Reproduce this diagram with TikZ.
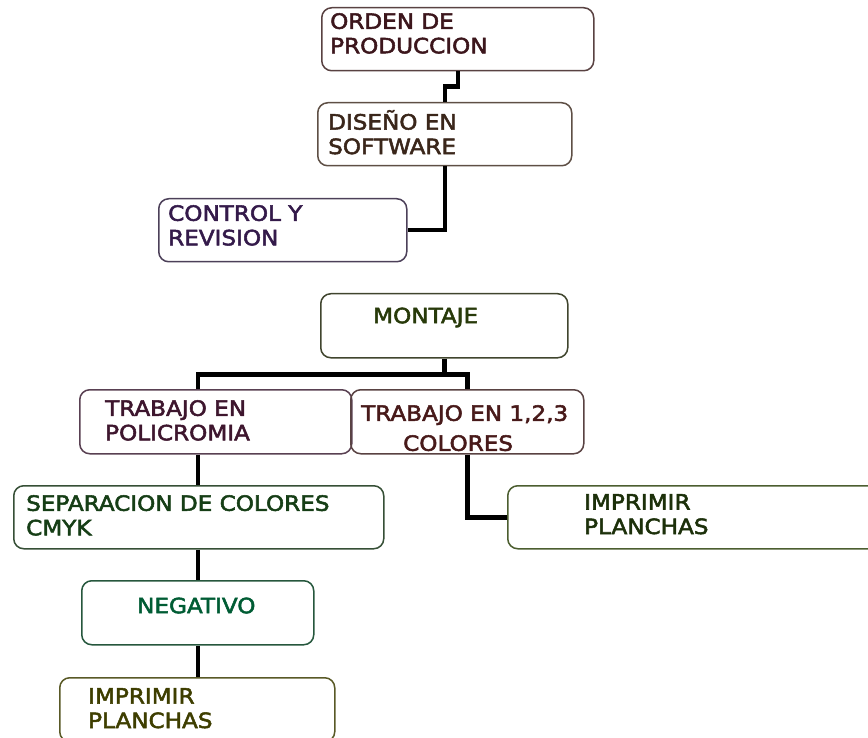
\documentclass[tikz,border=0pt]{standalone}
\usepackage{fontspec}
\setmainfont{DejaVu Sans}[FakeStretch=1.1,FakeBold=2.5]
\definecolor{ordentono}{RGB}{200, 110, 110}
\definecolor{ordentxt}{RGB}{60, 22, 28}
\definecolor{disenotono}{RGB}{220, 160, 120}
\definecolor{disenotxt}{RGB}{58, 38, 26}
\definecolor{controltono}{RGB}{150, 100, 200}
\definecolor{controltxt}{RGB}{52, 26, 74}
\definecolor{montajetono}{RGB}{100, 120, 30}
\definecolor{montajetxt}{RGB}{40, 58, 10}
\definecolor{policromtono}{RGB}{200, 100, 170}
\definecolor{policromtxt}{RGB}{62, 22, 46}
\definecolor{trestono}{RGB}{200, 110, 110}
\definecolor{trestxt}{RGB}{72, 26, 26}
\definecolor{separatono}{RGB}{60, 160, 60}
\definecolor{separatxt}{RGB}{22, 62, 22}
\definecolor{negativotono}{RGB}{0, 190, 90}
\definecolor{negativotxt}{RGB}{0, 92, 52}
\definecolor{imprimatono}{RGB}{200, 200, 0}
\definecolor{imprimatxt}{RGB}{62, 62, 0}
\definecolor{imprimbtono}{RGB}{150, 220, 40}
\definecolor{imprimbtxt}{RGB}{28, 48, 10}

\begin{document}
\begin{tikzpicture}[x=1pt,y=-1pt,
    caja/.style={draw=#1!30!black!85, line width=1.5pt, rounded corners=10pt,
      anchor=north west, inner sep=0pt, minimum height=63pt},
    texto/.style={anchor=north west, inner sep=0pt, align=left, text=#1,
      font=\fontsize{21}{24.5}\selectfont,
      execute at begin node={\rule{0pt}{20pt}}},
    linea/.style={line width=4.5pt}]
  \useasboundingbox (0,0) rectangle (868,738);

  % Orden de produccion
  \node[caja=ordentono, minimum width=272pt] (orden) at (321,7) {};
  \node[texto=ordentxt] (orden-t) at (330,13) {ORDEN DE\\PRODUCCION};

  % Diseno en software
  \node[caja=disenotono, minimum width=254pt] (diseno) at (317,102) {};
  \node[texto=disenotxt] (diseno-t) at (328,110) {DISEÑO EN\\SOFTWARE};

  % Control y revision
  \node[caja=controltono, minimum width=248pt] (control) at (158,198) {};
  \node[texto=controltxt] (control-t) at (168,205) {CONTROL Y\\REVISION};

  % Montaje
  \node[caja=montajetono, minimum width=247pt, minimum height=64pt] (montaje) at (320,293) {};
  \node[texto=montajetxt] (montaje-t) at (373,303) {MONTAJE};

  % Trabajos
  \node[caja=policromtono, minimum width=272pt, minimum height=64pt] (policromia) at (79,389) {};
  \node[texto=policromtxt] (policromia-t) at (105,400) {TRABAJO EN\\POLICROMIA};

  \node[caja=trestono, minimum width=233pt, minimum height=64pt] (tres) at (350,389) {};
  \node[texto=trestxt] (tres-t) at (361,405) {TRABAJO EN 1,2,3\\[5.5pt]\hspace*{42pt}COLORES};

  % Separacion
  \node[caja=separatono, minimum width=370pt] (separacion) at (13,485) {};
  \node[texto=separatxt] (separacion-t) at (26,495) {SEPARACION DE COLORES\\CMYK};

  % Negativo
  \node[caja=negativotono, minimum width=232pt, minimum height=64pt] (negativo) at (81,580) {};
  \node[texto=negativotxt] (negativo-t) at (137,593) {NEGATIVO};

  % Imprimir planchas
  \node[caja=imprimatono, minimum width=275pt, minimum height=64pt] (imprimira) at (59,677) {};
  \node[texto=imprimatxt] (imprimira-t) at (88,688) {IMPRIMIR\\PLANCHAS};

  \node[caja=imprimbtono, minimum width=380pt] (imprimirb) at (507,485) {};
  \node[texto=imprimbtxt] (imprimirb-t) at (584,494) {IMPRIMIR\\PLANCHAS};

  % Conectores
  \coordinate (eje) at ([xshift=-18pt]policromia.north);
  \draw[linea] (orden.south) -- ++(0,15) -| (diseno.north);
  \draw[linea] (diseno.south) |- (control.east);
  \draw[linea] (montaje.south) -- ++(0,16) coordinate (barra);
  \draw[linea] (eje) |- (barra) -| (tres.north);
  \draw[linea] (eje |- policromia.south) -- (eje |- separacion.north);
  \draw[linea] (eje |- separacion.south) -- (eje |- negativo.north);
  \draw[linea] (eje |- negativo.south) -- (eje |- imprimira.north);
  \draw[linea] (tres.south) |- (imprimirb.west);
\end{tikzpicture}
\end{document}
